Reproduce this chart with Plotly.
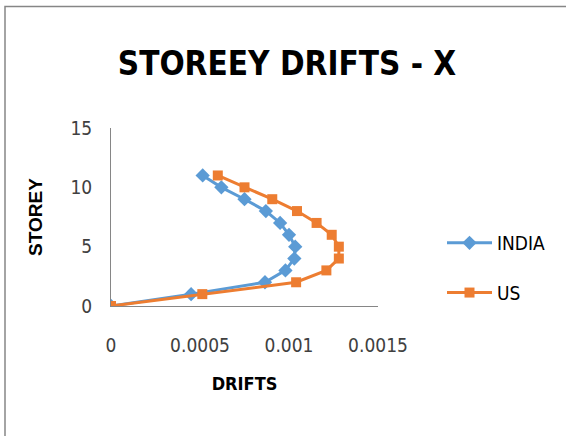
import plotly.graph_objects as go

storey = [0, 1, 2, 3, 4, 5, 6, 7, 8, 9, 10, 11]
india = [0, 0.00045, 0.000865, 0.00098, 0.00103, 0.001035, 0.001, 0.00095, 0.00087, 0.00075, 0.00062, 0.000515]
us = [0, 0.000513, 0.00104, 0.00121, 0.00128, 0.00128, 0.00124, 0.001155, 0.001045, 0.000906, 0.00075, 0.0006]

W, H = 566, 436
L, R, T, B = 111, 188, 128, 130
pw, ph = W - L - R, H - T - B
NARROW = "DejaVu Sans Condensed, Liberation Sans Narrow, Liberation Sans"

def px(x):
    return (x - L) / pw

def py(y):
    return (H - B - y) / ph

fig = go.Figure()
fig.add_trace(go.Scatter(x=india, y=storey, name="INDIA", mode="lines+markers",
                         line=dict(color="#5B9BD5", width=3),
                         marker=dict(symbol="diamond", size=11, color="#5B9BD5"),
                         legendgroup="a"))
fig.add_trace(go.Scatter(x=us, y=storey, name="US", mode="lines+markers",
                         line=dict(color="#ED7D31", width=3),
                         marker=dict(symbol="square", size=10, color="#ED7D31"),
                         legendgroup="b"))

fig.update_layout(
    width=W, height=H,
    margin=dict(l=L, r=R, t=T, b=B),
    paper_bgcolor="white", plot_bgcolor="white",
    title=dict(text="<b>STOREEY DRIFTS - X</b>", x=px(287), xref="paper", xanchor="center",
               y=1 - 63 / H, yanchor="middle",
               font=dict(family=NARROW, size=33, color="#000000")),
    xaxis=dict(range=[0, 0.0015], dtick=0.0005, tick0=0, showgrid=False, zeroline=False,
               showline=True, linecolor="#868686", linewidth=1, ticks="",
               tickfont=dict(family=NARROW, size=19, color="#404040"),
               ticklabelstandoff=22,
               title=dict(text="<b>DRIFTS</b>", standoff=22,
                          font=dict(family=NARROW, size=18, color="#000000"))),
    yaxis=dict(range=[0, 15], dtick=5, tick0=0, showgrid=False, zeroline=False,
               showline=True, linecolor="#868686", linewidth=1, ticks="",
               tickfont=dict(family=NARROW, size=19, color="#404040"),
               ticklabelstandoff=14,
               title=dict(text="<b>STOREY</b>", standoff=22,
                          font=dict(family="Liberation Sans", size=19, color="#000000"))),
    legend=dict(x=px(442), y=py(224), xanchor="left", yanchor="top",
                traceorder="grouped", tracegroupgap=22, itemwidth=45,
                font=dict(family=NARROW, size=19, color="#000000"),
                bgcolor="rgba(0,0,0,0)"),
    shapes=[dict(type="rect", xref="paper", yref="paper",
                 x0=px(5), x1=px(580), y0=py(450), y1=py(6.5),
                 line=dict(color="#868686", width=1.5), fillcolor="rgba(0,0,0,0)", layer="below")],
)

fig.write_html("out.html")
